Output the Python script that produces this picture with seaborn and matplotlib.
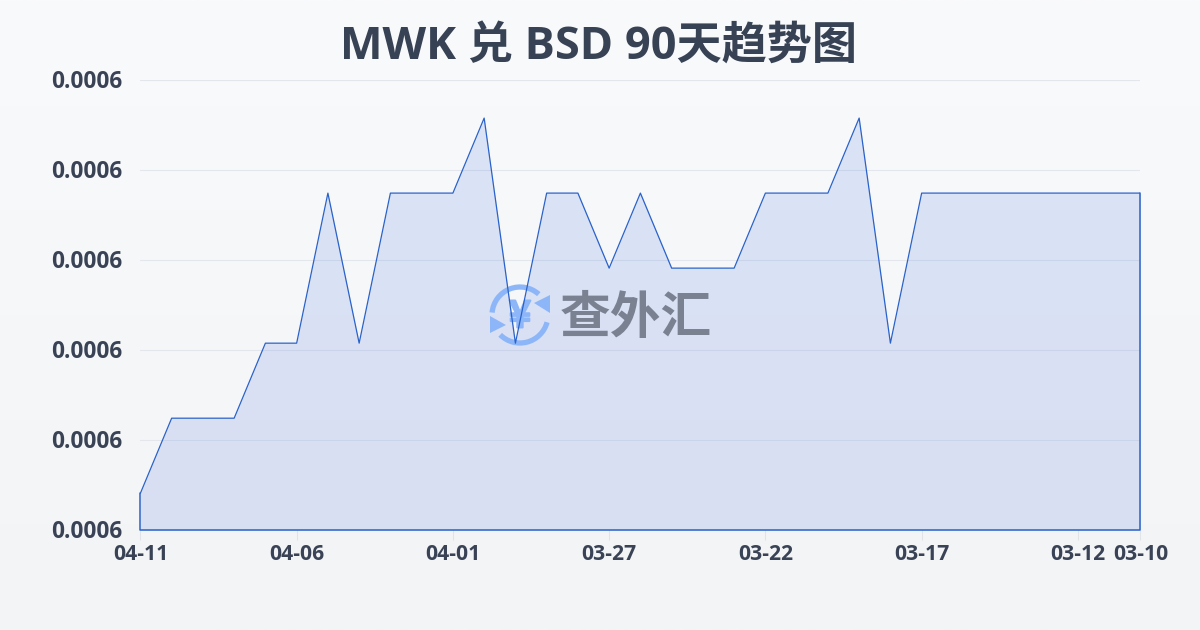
import numpy as np
import pandas as pd
import seaborn as sns
import matplotlib
matplotlib.use("Agg")
import matplotlib.pyplot as plt
import matplotlib.patheffects as pe
from matplotlib.patches import Arc, Polygon
from matplotlib.transforms import Affine2D

dates = ["04-11","04-10","04-09","04-08","04-07","04-06","04-05","04-04","04-03","04-02","04-01",
         "03-31","03-30","03-29","03-28","03-27","03-26","03-25","03-24","03-23","03-22",
         "03-21","03-20","03-19","03-18","03-17","03-16","03-15","03-14","03-13","03-12","03-11","03-10"]
rates = [0.000571,0.000572,0.000572,0.000572,0.000573,0.000573,0.000575,0.000573,0.000575,0.000575,0.000575,
         0.000576,0.000573,0.000575,0.000575,0.000574,0.000575,0.000574,0.000574,0.000574,0.000575,
         0.000575,0.000575,0.000576,0.000573,0.000575,0.000575,0.000575,0.000575,0.000575,0.000575,0.000575,0.000575]
tick_labels = ["04-11","04-06","04-01","03-27","03-22","03-17","03-12","03-10"]
y_ticks = [0.00057051,0.00057171,0.00057291,0.00057411,0.00057531,0.00057651]
title = "MWK 兑 BSD 90天趋势图"

sns.set_theme(style="white")
plt.rcParams['font.family'] = ['Open Sans', 'Noto Sans CJK SC', 'DejaVu Sans']

df = pd.DataFrame({"date": dates, "rate": rates})
df["pos"] = np.arange(len(df))

W, H = 1200, 630
fig = plt.figure(figsize=(12, 6.3), dpi=100)

# background gradient
bg = fig.add_axes([0, 0, 1, 1], zorder=0)
bg.axis("off")
grad = np.linspace(0, 1, 256)[:, None, None] * (np.array([0xF3,0xF4,0xF6]) - np.array([0xF9,0xFA,0xFC])) + np.array([0xF9,0xFA,0xFC])
bg.imshow(grad / 255, aspect="auto", extent=[0, 1, 0, 1])

ax = fig.add_axes([140.4/W, (H-530.0)/H, 1000/W, 450.2/H], zorder=1)
ax.patch.set_alpha(0)

ax.set_axisbelow(True)
ax.grid(axis="y", color="#E3E6EC", lw=0.8, zorder=0)
ax.grid(axis="x", visible=False)

ax.fill_between(df["pos"], df["rate"], y_ticks[0], color="#2F60DE", alpha=0.14, lw=0, zorder=2)

# watermark logo, in pixel coordinates
px = Affine2D().scale(1, -1).translate(0, H)
blue = "#8DB6F9"
for t1, t2 in [(185, 312), (15, 135)]:
    ax.add_patch(Arc((520, 315), 56, 56, theta1=t1, theta2=t2, lw=3.8, color=blue,
                     transform=px, zorder=3, clip_on=False))
ax.add_patch(Polygon([(550, 295), (550, 313), (534, 303)], closed=True, color=blue, transform=px, zorder=3, lw=0))
ax.add_patch(Polygon([(490, 316), (490, 333), (506, 325)], closed=True, color=blue, transform=px, zorder=3, lw=0))
ax.text(520, 316, "¥", transform=px, ha="center", va="center", fontsize=27, fontweight="black",
        family="Noto Sans CJK SC", color=blue, zorder=3,
        path_effects=[pe.withStroke(linewidth=1.4, foreground=blue)])
ax.text(636, 319, "查外汇", transform=px, ha="center", va="center", fontsize=36.5, fontweight="black",
        family="Noto Sans CJK SC", color="#7A8191", zorder=3)

sns.lineplot(data=df, x="pos", y="rate", ax=ax, color="#2A62C9", lw=0.9, zorder=4,
             estimator=None, errorbar=None, legend=False)
# closing edges of the area
ax.plot([0, 0, len(df)-1, len(df)-1], [rates[0], y_ticks[0], y_ticks[0], rates[-1]],
        color="#2A62C9", lw=1.1, zorder=4, clip_on=False)

ax.set_xlim(0, len(df)-1)
ax.set_ylim(y_ticks[0], y_ticks[-1])
for s in ax.spines.values():
    s.set_visible(False)
ax.set_xlabel("")
ax.set_ylabel("")

tick_pos = [dates.index(d) for d in tick_labels]
ax.set_xticks(tick_pos)
ax.set_xticklabels(tick_labels, fontsize=15.2, fontweight="bold", color="#394355")
ax.tick_params(axis="x", length=7, width=0.8, color="#E0E3E8", pad=3, bottom=True)
ax.set_yticks(y_ticks)
ax.set_yticklabels([f"{v:.4f}" for v in y_ticks], fontsize=16.3, fontweight="bold", color="#394355")
ax.tick_params(axis="y", length=0, pad=13)
for lab in ax.get_yticklabels():
    lab.set_transform(lab.get_transform() + Affine2D().translate(0, 1))

fig.text(598.5/W, 1 - 47/H, title, ha="center", va="center", fontsize=32.5, fontweight="bold", color="#374254")

fig.savefig("out.png", dpi=100)
